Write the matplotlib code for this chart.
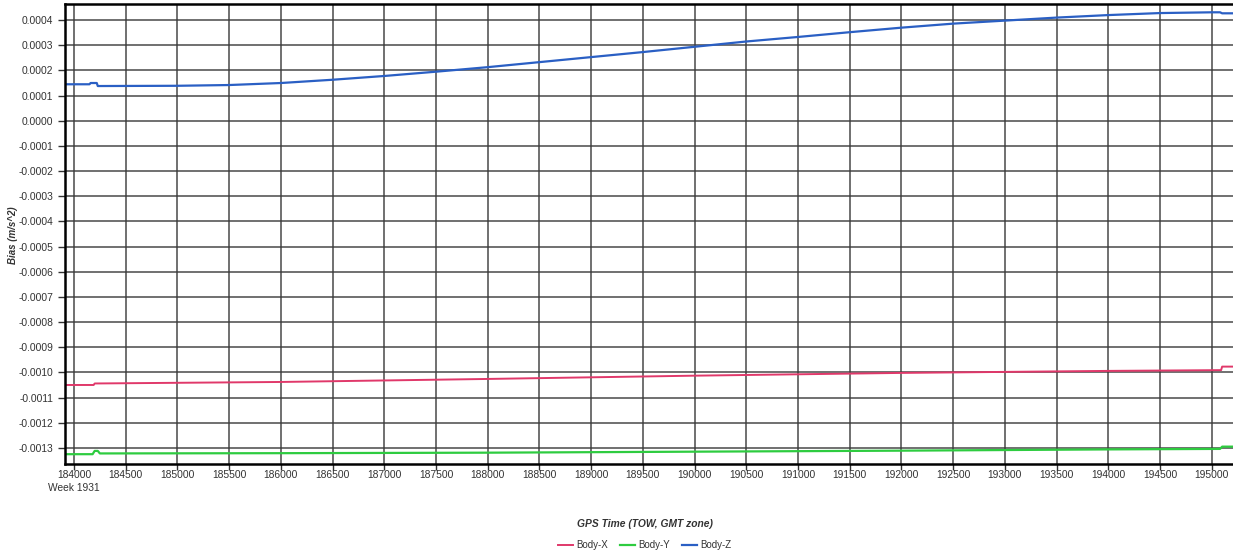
import numpy as np
import matplotlib.pyplot as plt
from matplotlib.ticker import FixedLocator, FuncFormatter

plt.rcParams['font.family'] = ['Liberation Sans', 'DejaVu Sans']

# Bias estimates vs GPS time of week
t_x = [183910, 184190, 184200, 186000, 188000, 190000, 192000, 193000, 194000,
       195090, 195100, 195210]
bias_x = [-0.001050, -0.001050, -0.001044, -0.001038, -0.001026, -0.001013, -0.001002,
          -0.000998, -0.000994, -0.000991, -0.000977, -0.000977]

t_y = [183910, 184180, 184200, 184230, 184250, 186000, 188000, 190000, 192000,
       194000, 195080, 195100, 195210]
bias_y = [-0.001325, -0.001325, -0.001312, -0.001312, -0.001322, -0.001321, -0.001319,
          -0.001315, -0.001311, -0.001306, -0.001304, -0.001295, -0.001295]

t_z = [183910, 184150, 184160, 184220, 184230, 185000, 185500, 186000, 186500, 187000,
       187500, 188000, 188500, 189000, 189500, 190000, 190500, 191000, 191500,
       192000, 192500, 193000, 193500, 194000, 194500, 195000, 195080, 195100, 195210]
bias_z = [0.000145, 0.000145, 0.000150, 0.000150, 0.000138, 0.000139, 0.000142, 0.000150,
          0.000163, 0.000178, 0.000195, 0.000213, 0.000233, 0.000253, 0.000273,
          0.000294, 0.000315, 0.000333, 0.000352, 0.000370, 0.000386, 0.000398,
          0.000410, 0.000420, 0.000428, 0.000431, 0.000431, 0.000427, 0.000427]

x_ticks = list(range(184000, 195001, 500))
y_ticks = [round(v * 1e-4, 4) for v in range(-13, 5)]

fig = plt.figure(figsize=(12.33, 5.58), dpi=100)
ax = fig.add_axes([65 / 1233, 1 - 464 / 558, 1 - 65 / 1233, 460 / 558])

ax.plot(t_x, bias_x, color='#e0386a', lw=1.4, label='Body-X')
ax.plot(t_y, bias_y, color='#2ecc40', lw=1.6, label='Body-Y')
ax.plot(t_z, bias_z, color='#2a5fc4', lw=1.6, label='Body-Z')

ax.set_xlim(183913, 195205)
ax.set_ylim(-0.001364, 0.000464)
ax.xaxis.set_major_locator(FixedLocator(x_ticks))
ax.yaxis.set_major_locator(FixedLocator(y_ticks))
ax.yaxis.set_major_formatter(FuncFormatter(lambda v, p: f"{v:.4f}" if abs(v) > 1e-9 else "0.0000"))
ax.tick_params(labelsize=7.4, colors='#333333', length=5, width=1)
ax.tick_params(axis='x', length=4, pad=0.3)
ax.grid(True, color='#3a3a3a', lw=1.2, alpha=0.85)
ax.set_axisbelow(True)
for s in ['left', 'bottom', 'top']:
    ax.spines[s].set_linewidth(1.8)
    ax.spines[s].set_color('black')
ax.spines['right'].set_visible(False)

fig.text(74 / 1233, 1 - 488 / 558, 'Week 1931', ha='center', va='center',
         fontsize=7.4, color='#333333')

fig.text(13 / 1233, 1 - 235 / 558, 'Bias (m/s^2)', rotation=90, ha='center', va='center',
         fontsize=7, fontweight='bold', fontstyle='italic', color='#333333')
fig.text(0.523, 1 - 524 / 558, 'GPS Time (TOW, GMT zone)', ha='center', va='center',
         fontsize=7.4, fontweight='bold', fontstyle='italic', color='#333333')

handles, labels = ax.get_legend_handles_labels()
fig.legend(handles, labels, loc='center', bbox_to_anchor=(0.523, 1 - 545 / 558), ncol=3,
           frameon=False, fontsize=7, handlelength=1.5, columnspacing=1.2, handletextpad=0.4,
           labelcolor='#333333')

fig.savefig('out.png', dpi=100)
